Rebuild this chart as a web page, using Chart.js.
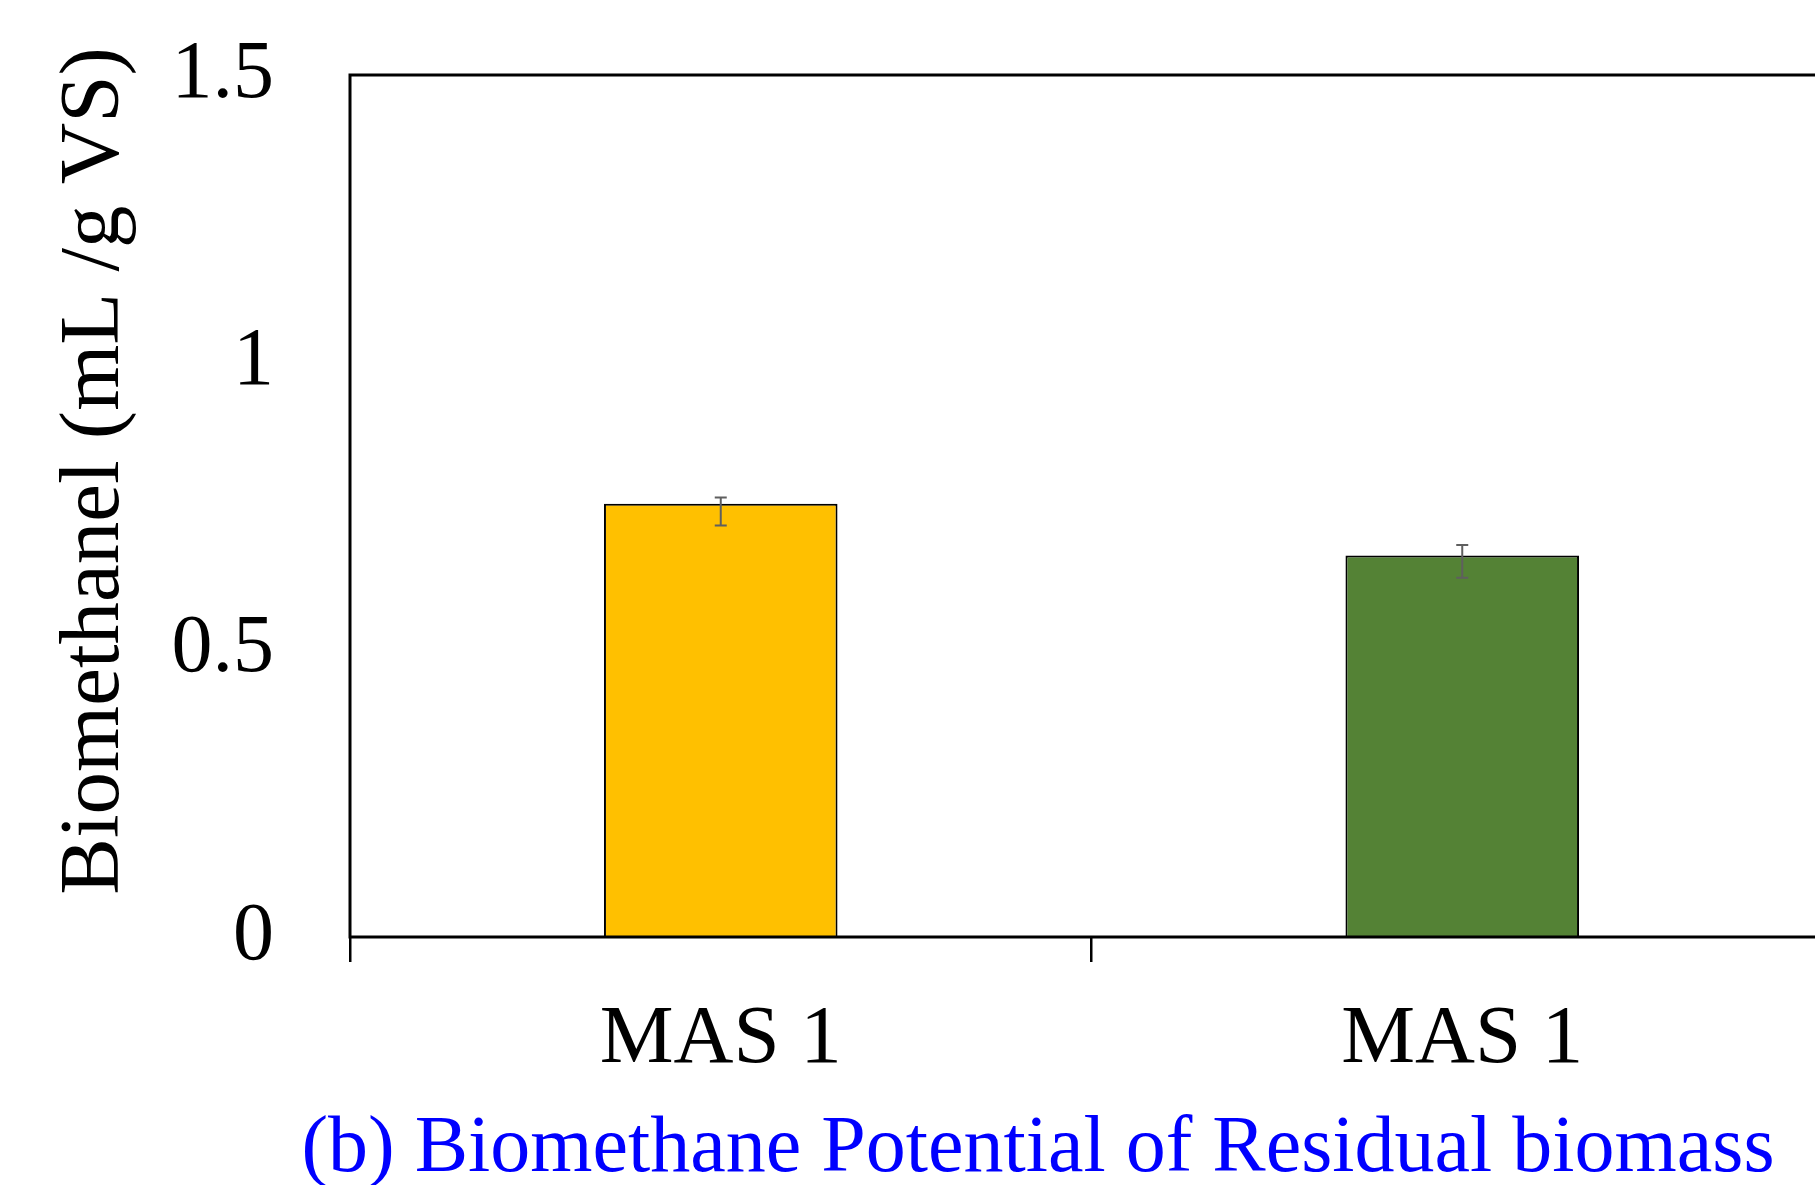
<!DOCTYPE html>
<html>
<head>
<meta charset="utf-8">
<script src="https://cdn.jsdelivr.net/npm/chart.js@4/dist/chart.umd.min.js"></script>
<style>
  html, body { margin: 0; padding: 0; background: #fff; overflow: hidden; }
  #wrap { position: relative; width: 1845px; height: 1185px; }
</style>
</head>
<body>
<div id="wrap"><canvas id="c"></canvas></div>
<script>
// Biomethane potential of residual biomass
const categories = ['MAS 1', 'MAS 1'];
const biomethane = [0.754, 0.664];
const errHigh = [0.765, 0.682];
const errLow = [0.716, 0.625];
const barColors = ['#FFC000', '#548235'];
const yTicks = [0, 0.5, 1, 1.5];
const yTitle = 'Biomethanel (mL /g VS)';
const caption = '(b) Biomethane Potential of Residual biomass';

const SERIF = '"Liberation Serif", "Times New Roman", serif';

// Frame around the plot area
const framePlugin = {
  id: 'frame',
  afterDraw(chart) {
    const { ctx, chartArea: a } = chart;
    ctx.save();
    ctx.strokeStyle = '#000';
    ctx.lineWidth = 3;
    ctx.strokeRect(a.left, a.top, a.right - a.left, a.bottom - a.top);
    ctx.restore();
  }
};

// Error whiskers on each bar
const errorPlugin = {
  id: 'errors',
  afterDatasetsDraw(chart) {
    const { ctx } = chart;
    const y = chart.scales.y;
    const meta = chart.getDatasetMeta(0);
    ctx.save();
    ctx.strokeStyle = '#5f5f5f';
    ctx.lineWidth = 2;
    meta.data.forEach((bar, i) => {
      const x = bar.x;
      const yh = y.getPixelForValue(errHigh[i]);
      const yl = y.getPixelForValue(errLow[i]);
      const cap = 6;
      ctx.beginPath();
      ctx.moveTo(x, yh); ctx.lineTo(x, yl);
      ctx.moveTo(x - cap, yh); ctx.lineTo(x + cap, yh);
      ctx.moveTo(x - cap, yl); ctx.lineTo(x + cap, yl);
      ctx.stroke();
    });
    ctx.restore();
  }
};

// Rotated y-axis title and blue caption under the chart
const textPlugin = {
  id: 'texts',
  afterDraw(chart) {
    const { ctx } = chart;
    ctx.save();
    ctx.fillStyle = '#000';
    ctx.font = '85px ' + SERIF;
    ctx.textAlign = 'center';
    ctx.textBaseline = 'alphabetic';
    ctx.translate(118, 471);
    ctx.rotate(-Math.PI / 2);
    ctx.fillText(yTitle, 0, 0);
    ctx.restore();

    ctx.save();
    ctx.fillStyle = '#0000FF';
    ctx.font = '80px ' + SERIF;
    ctx.textAlign = 'center';
    ctx.textBaseline = 'alphabetic';
    ctx.fillText(caption, 1038, 1171);
    ctx.restore();
  }
};

new Chart(document.getElementById('c'), {
  type: 'bar',
  data: {
    labels: categories,
    datasets: [{
      data: biomethane,
      backgroundColor: barColors,
      borderColor: '#000',
      borderWidth: 2,
      barPercentage: 0.315,
      categoryPercentage: 1
    }]
  },
  options: {
    responsive: true,
    maintainAspectRatio: false,
    animation: false,
    devicePixelRatio: 1,
    layout: { padding: { top: 75, right: 12, left: 0, bottom: 0 } },
    plugins: {
      legend: { display: false },
      tooltip: { enabled: false },
      title: { display: false }
    },
    scales: {
      x: {
        offset: true,
        border: { display: false },
        grid: {
          offset: true,
          drawOnChartArea: false,
          drawTicks: true,
          tickLength: 25,
          color: '#000',
          lineWidth: 2.5
        },
        ticks: {
          color: '#000',
          font: { family: SERIF, size: 83, lineHeight: 1 },
          padding: 37,
          maxRotation: 0
        },
        afterFit(scale) {
          scale.height = 248;
          scale.paddingLeft = 0;
          scale.paddingRight = 0;
        }
      },
      y: {
        min: 0,
        max: 1.5,
        border: { display: false },
        grid: { display: false, drawTicks: false },
        afterBuildTicks(scale) { scale.ticks = yTicks.map(v => ({ value: v })); },
        ticks: {
          color: '#000',
          font: { family: SERIF, size: 82 },
          padding: 76,
          callback: (v) => String(v)
        },
        afterFit(scale) {
          scale.width = 350;
          scale.paddingTop = 0;
          scale.paddingBottom = 0;
        }
      }
    }
  },
  plugins: [framePlugin, errorPlugin, textPlugin]
});
</script>
</body>
</html>
